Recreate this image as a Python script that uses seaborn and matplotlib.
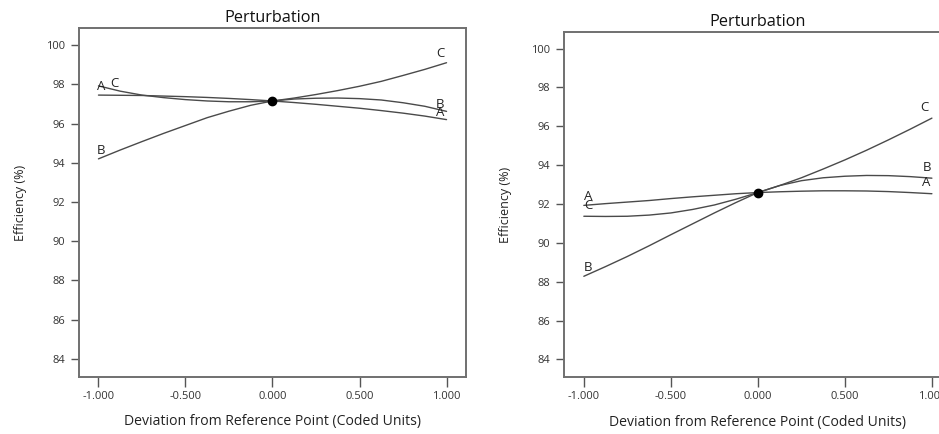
import numpy as np
import pandas as pd
import matplotlib
matplotlib.use("Agg")
import matplotlib.pyplot as plt
import seaborn as sns

# ---- data ----
deviation = [-1.0, -0.875, -0.75, -0.625, -0.5, -0.375, -0.25, -0.125, 0.0,
             0.125, 0.25, 0.375, 0.5, 0.625, 0.75, 0.875, 1.0]
factors = ["A", "B", "C"]

left_A = [97.45, 97.44, 97.43, 97.40, 97.37, 97.33, 97.28, 97.22, 97.15,
          97.07, 96.98, 96.88, 96.78, 96.66, 96.53, 96.38, 96.20]
left_B = [94.20, 94.65, 95.08, 95.50, 95.90, 96.30, 96.63, 96.93, 97.15,
          97.25, 97.29, 97.30, 97.27, 97.20, 97.06, 96.88, 96.62]
left_C = [97.92, 97.65, 97.45, 97.32, 97.22, 97.15, 97.11, 97.11, 97.15,
          97.30, 97.48, 97.68, 97.90, 98.15, 98.45, 98.76, 99.10]

right_A = [91.93, 92.02, 92.10, 92.18, 92.28, 92.37, 92.45, 92.53, 92.59,
           92.63, 92.66, 92.68, 92.68, 92.67, 92.64, 92.59, 92.53]
right_B = [88.28, 88.78, 89.30, 89.85, 90.42, 90.98, 91.54, 92.08, 92.59,
           92.95, 93.20, 93.35, 93.43, 93.47, 93.46, 93.41, 93.33]
right_C = [91.37, 91.36, 91.37, 91.43, 91.54, 91.72, 91.95, 92.25, 92.59,
           92.95, 93.35, 93.80, 94.27, 94.77, 95.30, 95.85, 96.42]

ref_left = 97.15
ref_right = 92.59

title = "Perturbation"
xlabel = "Deviation from Reference Point (Coded Units)"
ylabel = "Efficiency (%)"
xticks = [-1.0, -0.5, 0.0, 0.5, 1.0]
xticklabels = ["-1.000", "-0.500", "0.000", "0.500", "1.000"]
yticks = [84, 86, 88, 90, 92, 94, 96, 98, 100]

# labels: (text, x, y)
left_labels = [("A", -0.985, 97.55), ("C", -0.91, 97.72), ("B", -0.985, 94.3),
               ("C", 0.965, 99.25), ("B", 0.965, 96.62), ("A", 0.965, 96.22)]
right_labels = [("A", -0.975, 92.05), ("C", -0.975, 91.58), ("B", -0.975, 88.4),
                ("C", 0.955, 96.65), ("B", 0.97, 93.55), ("A", 0.97, 92.75)]

sns.set_style("white")
plt.rcParams["font.family"] = ["Open Sans", "DejaVu Sans"]

fig = plt.figure(figsize=(9.39, 4.34), dpi=100)
ax1 = fig.add_axes([0.0841, 0.1313, 0.4122, 0.8042])
ax2 = fig.add_axes([0.6010, 0.1306, 0.4122, 0.7964])

line_color = "#4a4a4a"
spine_color = "#707070"


def draw(ax, a, b, c, ref, labels):
    df = pd.DataFrame({
        "x": deviation * 3,
        "y": a + b + c,
        "factor": [f for f in factors for _ in deviation],
    })
    sns.lineplot(data=df, x="x", y="y", hue="factor",
                 palette={f: line_color for f in factors},
                 linewidth=1.0, legend=False, ax=ax, estimator=None)
    ax.plot([0], [ref], "o", color="black", markersize=6, zorder=5)
    for t, x, y in labels:
        ax.text(x, y, t, fontsize=9.5, color="#222222", ha="center", va="bottom")
    ax.set_xlim(-1.112, 1.112)
    ax.set_ylim(83.08, 100.87)
    ax.set_xticks(xticks)
    ax.set_xticklabels(xticklabels, fontsize=8, color="#333333")
    ax.set_yticks(yticks)
    ax.set_yticklabels([str(v) for v in yticks], fontsize=8, color="#333333")
    ax.tick_params(axis="both", direction="out", width=1.0,
                   color="#555555", bottom=True, left=True)
    ax.tick_params(axis="x", length=7, pad=3)
    ax.tick_params(axis="y", length=6, pad=4)
    for s in ax.spines.values():
        s.set_visible(True)
        s.set_color(spine_color)
        s.set_linewidth(1.4)
    ax.set_title(title, fontsize=11.7, color="#111111", pad=4)
    ax.set_xlabel(xlabel, fontsize=10.1, color="#222222", labelpad=9)
    ax.set_ylabel(ylabel, fontsize=9, color="#222222", labelpad=14)


draw(ax1, left_A, left_B, left_C, ref_left, left_labels)
draw(ax2, right_A, right_B, right_C, ref_right, right_labels)

fig.savefig("out.png", dpi=100)
